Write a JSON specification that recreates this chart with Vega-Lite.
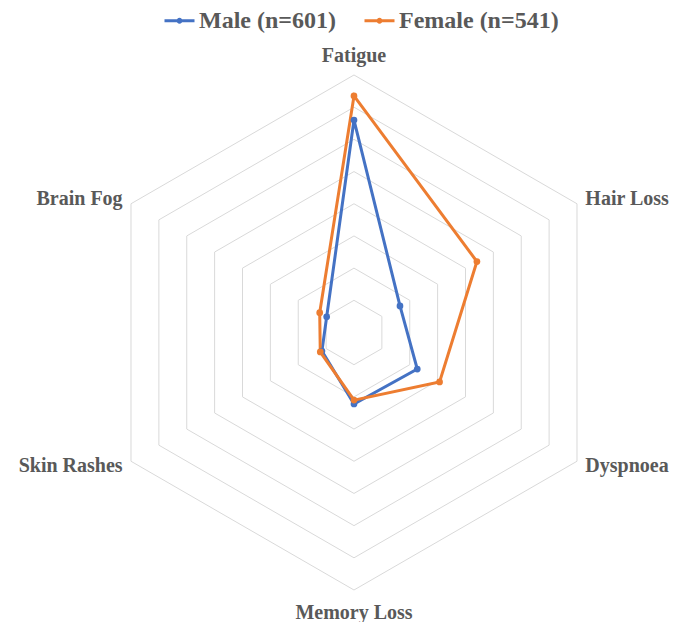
{
  "$schema": "https://vega.github.io/schema/vega-lite/v6.json",
  "width": 688,
  "height": 622,
  "autosize": {"type": "none"},
  "padding": 0,
  "background": "white",
  "config": {"view": {"stroke": null}},
  "datasets": {
    "grid": [
      {"ring": 10, "symptom": ["Fatigue", "Hair Loss", "Dyspnoea", "Memory Loss", "Skin Rashes", "Brain Fog"]},
      {"ring": 20, "symptom": ["Fatigue", "Hair Loss", "Dyspnoea", "Memory Loss", "Skin Rashes", "Brain Fog"]},
      {"ring": 30, "symptom": ["Fatigue", "Hair Loss", "Dyspnoea", "Memory Loss", "Skin Rashes", "Brain Fog"]},
      {"ring": 40, "symptom": ["Fatigue", "Hair Loss", "Dyspnoea", "Memory Loss", "Skin Rashes", "Brain Fog"]},
      {"ring": 50, "symptom": ["Fatigue", "Hair Loss", "Dyspnoea", "Memory Loss", "Skin Rashes", "Brain Fog"]},
      {"ring": 60, "symptom": ["Fatigue", "Hair Loss", "Dyspnoea", "Memory Loss", "Skin Rashes", "Brain Fog"]},
      {"ring": 70, "symptom": ["Fatigue", "Hair Loss", "Dyspnoea", "Memory Loss", "Skin Rashes", "Brain Fog"]},
      {"ring": 80, "symptom": ["Fatigue", "Hair Loss", "Dyspnoea", "Memory Loss", "Skin Rashes", "Brain Fog"]}
    ],
    "series": [
      {"sex": "Male (n=601)", "symptom": "Fatigue", "value": 66.0},
      {"sex": "Male (n=601)", "symptom": "Hair Loss", "value": 16.5},
      {"sex": "Male (n=601)", "symptom": "Dyspnoea", "value": 22.7},
      {"sex": "Male (n=601)", "symptom": "Memory Loss", "value": 22.2},
      {"sex": "Male (n=601)", "symptom": "Skin Rashes", "value": 11.5},
      {"sex": "Male (n=601)", "symptom": "Brain Fog", "value": 9.8},
      {"sex": "Female (n=541)", "symptom": "Fatigue", "value": 73.5},
      {"sex": "Female (n=541)", "symptom": "Hair Loss", "value": 44.1},
      {"sex": "Female (n=541)", "symptom": "Dyspnoea", "value": 30.7},
      {"sex": "Female (n=541)", "symptom": "Memory Loss", "value": 21.0},
      {"sex": "Female (n=541)", "symptom": "Skin Rashes", "value": 12.1},
      {"sex": "Female (n=541)", "symptom": "Brain Fog", "value": 12.3}
    ],
    "labels": [
      {"symptom": "Fatigue"},
      {"symptom": "Hair Loss"},
      {"symptom": "Dyspnoea"},
      {"symptom": "Memory Loss"},
      {"symptom": "Skin Rashes"},
      {"symptom": "Brain Fog"}
    ]
  },
  "layer": [
    {
      "data": {"name": "grid"},
      "transform": [
        {"flatten": ["symptom"]},
        {"calculate": "indexof(['Fatigue','Hair Loss','Dyspnoea','Memory Loss','Skin Rashes','Brain Fog'], datum.symptom)", "as": "k"},
        {"calculate": "datum.ring * sin(datum.k * PI / 3)", "as": "px"},
        {"calculate": "datum.ring * cos(datum.k * PI / 3)", "as": "py"}
      ],
      "mark": {"type": "line", "interpolate": "linear-closed", "stroke": "#d9d9d9", "strokeWidth": 1},
      "encoding": {
        "x": {"field": "px", "type": "quantitative", "scale": {"domain": [-109.98, 103.77], "nice": false, "zero": false}, "axis": null},
        "y": {"field": "py", "type": "quantitative", "scale": {"domain": [-89.94, 103.30], "nice": false, "zero": false}, "axis": null},
        "detail": {"field": "ring", "type": "nominal"},
        "order": {"field": "k", "type": "quantitative"}
      }
    },
    {
      "data": {"name": "series"},
      "transform": [
        {"calculate": "indexof(['Fatigue','Hair Loss','Dyspnoea','Memory Loss','Skin Rashes','Brain Fog'], datum.symptom)", "as": "k"},
        {"calculate": "datum.value * sin(datum.k * PI / 3)", "as": "px"},
        {"calculate": "datum.value * cos(datum.k * PI / 3)", "as": "py"}
      ],
      "mark": {"type": "line", "interpolate": "linear-closed", "strokeWidth": 3, "point": {"filled": true, "size": 45}},
      "encoding": {
        "x": {"field": "px", "type": "quantitative", "scale": {"domain": [-109.98, 103.77], "nice": false, "zero": false}, "axis": null},
        "y": {"field": "py", "type": "quantitative", "scale": {"domain": [-89.94, 103.30], "nice": false, "zero": false}, "axis": null},
        "order": {"field": "k", "type": "quantitative"},
        "color": {
          "field": "sex",
          "type": "nominal",
          "sort": null,
          "scale": {"domain": ["Male (n=601)", "Female (n=541)"], "range": ["#4472C4", "#ED7D31"]},
          "legend": {
            "orient": "none",
            "legendX": 163,
            "legendY": 4,
            "direction": "horizontal",
            "title": null,
            "labelFont": "Liberation Serif",
            "labelFontWeight": "bold",
            "labelFontSize": 24,
            "labelColor": "#595959",
            "symbolType": "M-1,0H1M-0.1,0A0.1,0.1 0 1,0 0.1,0A0.1,0.1 0 1,0 -0.1,0",
            "symbolSize": 900,
            "symbolStrokeWidth": 3,
            "columnPadding": 22,
            "labelOffset": 3
          }
        }
      }
    },
    {
      "data": {"name": "labels"},
      "transform": [
        {"calculate": "indexof(['Fatigue','Hair Loss','Dyspnoea','Memory Loss','Skin Rashes','Brain Fog'], datum.symptom)", "as": "k"},
        {"filter": "datum.k == 0 || datum.k == 3"},
        {"calculate": "86.5 * sin(datum.k * PI / 3)", "as": "px"},
        {"calculate": "(datum.k == 0 ? 86 : 87.2) * cos(datum.k * PI / 3)", "as": "py"}
      ],
      "mark": {"type": "text", "align": "center", "baseline": "middle", "font": "Liberation Serif", "fontWeight": "bold", "fontSize": 20, "color": "#595959"},
      "encoding": {
        "x": {"field": "px", "type": "quantitative", "scale": {"domain": [-109.98, 103.77], "nice": false, "zero": false}, "axis": null},
        "y": {"field": "py", "type": "quantitative", "scale": {"domain": [-89.94, 103.30], "nice": false, "zero": false}, "axis": null},
        "text": {"field": "symptom"}
      }
    },
    {
      "data": {"name": "labels"},
      "transform": [
        {"calculate": "indexof(['Fatigue','Hair Loss','Dyspnoea','Memory Loss','Skin Rashes','Brain Fog'], datum.symptom)", "as": "k"},
        {"filter": "datum.k == 1 || datum.k == 2"},
        {"calculate": "83 * sin(datum.k * PI / 3)", "as": "px"},
        {"calculate": "83 * cos(datum.k * PI / 3)", "as": "py"}
      ],
      "mark": {"type": "text", "align": "left", "baseline": "middle", "font": "Liberation Serif", "fontWeight": "bold", "fontSize": 20, "color": "#595959"},
      "encoding": {
        "x": {"field": "px", "type": "quantitative", "scale": {"domain": [-109.98, 103.77], "nice": false, "zero": false}, "axis": null},
        "y": {"field": "py", "type": "quantitative", "scale": {"domain": [-89.94, 103.30], "nice": false, "zero": false}, "axis": null},
        "text": {"field": "symptom"}
      }
    },
    {
      "data": {"name": "labels"},
      "transform": [
        {"calculate": "indexof(['Fatigue','Hair Loss','Dyspnoea','Memory Loss','Skin Rashes','Brain Fog'], datum.symptom)", "as": "k"},
        {"filter": "datum.k == 4 || datum.k == 5"},
        {"calculate": "83 * sin(datum.k * PI / 3)", "as": "px"},
        {"calculate": "83 * cos(datum.k * PI / 3)", "as": "py"}
      ],
      "mark": {"type": "text", "align": "right", "baseline": "middle", "font": "Liberation Serif", "fontWeight": "bold", "fontSize": 20, "color": "#595959"},
      "encoding": {
        "x": {"field": "px", "type": "quantitative", "scale": {"domain": [-109.98, 103.77], "nice": false, "zero": false}, "axis": null},
        "y": {"field": "py", "type": "quantitative", "scale": {"domain": [-89.94, 103.30], "nice": false, "zero": false}, "axis": null},
        "text": {"field": "symptom"}
      }
    }
  ]
}
